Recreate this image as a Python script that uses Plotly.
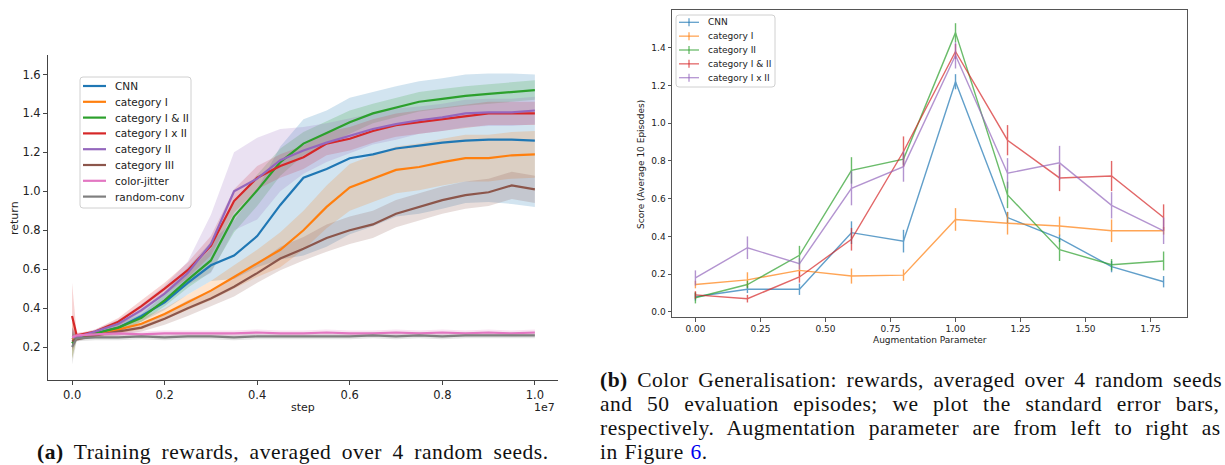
import plotly.graph_objects as go

W, H = 1225, 465

# ---------------- (a) training curves ----------------
steps = [0, 0.01, 0.05, 0.1, 0.15, 0.2, 0.25, 0.3, 0.35, 0.4, 0.45, 0.5, 0.55,
         0.6, 0.65, 0.7, 0.75, 0.8, 0.85, 0.9, 0.95, 1.0]

train_names = ["CNN", "category I", "category I & II", "category I x II",
               "category II", "category III", "color-jitter", "random-conv"]

cnn_mean = [0.24, 0.25, 0.27, 0.30, 0.36, 0.43, 0.53, 0.62, 0.67, 0.77, 0.93, 1.07,
            1.115, 1.17, 1.19, 1.22, 1.235, 1.25, 1.26, 1.265, 1.265, 1.26]
cnn_lo = [0.03, 0.01, 0.01, 0.02, 0.03, 0.04, 0.06, 0.08, 0.12, 0.16, 0.28, 0.40,
          0.40, 0.39, 0.37, 0.35, 0.35, 0.34, 0.32, 0.32, 0.33, 0.34]
cnn_hi = [0.03, 0.01, 0.01, 0.02, 0.03, 0.05, 0.08, 0.12, 0.18, 0.24, 0.30, 0.30,
          0.30, 0.31, 0.32, 0.32, 0.33, 0.33, 0.34, 0.34, 0.34, 0.34]

cat1_mean = [0.24, 0.25, 0.26, 0.29, 0.32, 0.37, 0.43, 0.49, 0.56, 0.63, 0.70, 0.80,
             0.92, 1.02, 1.065, 1.11, 1.125, 1.15, 1.17, 1.17, 1.185, 1.19]
cat1_sd = [0.10, 0.01, 0.01, 0.02, 0.03, 0.03, 0.04, 0.05, 0.06, 0.07, 0.09, 0.10,
           0.11, 0.12, 0.12, 0.12, 0.12, 0.12, 0.12, 0.12, 0.12, 0.12]

cat12_mean = [0.22, 0.25, 0.27, 0.30, 0.35, 0.44, 0.545, 0.645, 0.87, 1.005, 1.15, 1.245,
              1.30, 1.355, 1.40, 1.43, 1.46, 1.475, 1.49, 1.50, 1.51, 1.52]
cat12_sd = [0.08, 0.01, 0.01, 0.02, 0.02, 0.03, 0.04, 0.06, 0.08, 0.08, 0.07, 0.06,
            0.06, 0.06, 0.05, 0.05, 0.05, 0.05, 0.05, 0.05, 0.05, 0.05]

cat1x2_mean = [0.36, 0.26, 0.28, 0.33, 0.41, 0.50, 0.595, 0.72, 0.95, 1.07, 1.13, 1.175,
               1.245, 1.27, 1.31, 1.34, 1.355, 1.37, 1.385, 1.40, 1.40, 1.40]
cat1x2_sd = [0.17, 0.01, 0.01, 0.02, 0.03, 0.03, 0.04, 0.05, 0.06, 0.06, 0.06, 0.06,
             0.06, 0.06, 0.06, 0.06, 0.06, 0.06, 0.06, 0.06, 0.06, 0.06]

cat2_mean = [0.25, 0.25, 0.28, 0.32, 0.39, 0.475, 0.58, 0.73, 1.00, 1.065, 1.16, 1.21,
             1.25, 1.285, 1.32, 1.345, 1.365, 1.38, 1.40, 1.405, 1.405, 1.415]
cat2_sd = [0.05, 0.01, 0.01, 0.02, 0.03, 0.04, 0.06, 0.15, 0.20, 0.21, 0.16, 0.12,
           0.10, 0.09, 0.08, 0.08, 0.07, 0.07, 0.07, 0.07, 0.07, 0.07]

cat3_mean = [0.23, 0.24, 0.26, 0.28, 0.30, 0.345, 0.40, 0.45, 0.51, 0.58, 0.655, 0.705,
             0.76, 0.80, 0.83, 0.885, 0.92, 0.955, 0.98, 0.995, 1.03, 1.01]
cat3_sd = [0.05, 0.01, 0.01, 0.02, 0.02, 0.03, 0.04, 0.04, 0.05, 0.05, 0.06, 0.06,
           0.07, 0.07, 0.07, 0.07, 0.07, 0.07, 0.07, 0.07, 0.07, 0.07]

jitter_mean = [0.25, 0.26, 0.265, 0.27, 0.265, 0.27, 0.27, 0.27, 0.27, 0.275, 0.27, 0.27,
               0.275, 0.27, 0.27, 0.275, 0.27, 0.275, 0.27, 0.275, 0.27, 0.275]
jitter_sd = [0.05, 0.015, 0.015, 0.015, 0.015, 0.015, 0.015, 0.015, 0.015, 0.015, 0.015,
             0.015, 0.015, 0.015, 0.015, 0.015, 0.015, 0.015, 0.015, 0.015, 0.015, 0.015]

rconv_mean = [0.20, 0.245, 0.25, 0.25, 0.255, 0.25, 0.255, 0.255, 0.25, 0.255, 0.255, 0.255,
              0.255, 0.255, 0.26, 0.255, 0.26, 0.255, 0.26, 0.26, 0.26, 0.26]
rconv_sd = [0.09, 0.015, 0.015, 0.015, 0.015, 0.015, 0.015, 0.015, 0.015, 0.015, 0.015,
            0.015, 0.015, 0.015, 0.015, 0.015, 0.015, 0.015, 0.015, 0.015, 0.015, 0.015]

train_x_ticks = [0.0, 0.2, 0.4, 0.6, 0.8, 1.0]
train_y_ticks = [0.2, 0.4, 0.6, 0.8, 1.0, 1.2, 1.4, 1.6]

# ---------------- (b) colour generalisation ----------------
aug_param = [0.0, 0.2, 0.4, 0.6, 0.8, 1.0, 1.2, 1.4, 1.6, 1.8]
gen_names = ["CNN", "category I", "category II", "category I & II", "category I x II"]

gen_cnn = [0.08, 0.12, 0.12, 0.42, 0.375, 1.22, 0.50, 0.39, 0.24, 0.16]
gen_cnn_err = [0.02, 0.02, 0.03, 0.06, 0.06, 0.04, 0.03, 0.02, 0.03, 0.03]
gen_cat1 = [0.145, 0.17, 0.22, 0.19, 0.195, 0.49, 0.47, 0.455, 0.43, 0.43]
gen_cat1_err = [0.02, 0.04, 0.03, 0.04, 0.03, 0.06, 0.06, 0.05, 0.06, 0.02]
gen_cat2 = [0.075, 0.145, 0.30, 0.75, 0.81, 1.48, 0.62, 0.33, 0.25, 0.27]
gen_cat2_err = [0.03, 0.02, 0.05, 0.07, 0.03, 0.05, 0.07, 0.06, 0.03, 0.05]
gen_cat12 = [0.09, 0.07, 0.185, 0.385, 0.85, 1.38, 0.91, 0.71, 0.72, 0.50]
gen_cat12_err = [0.02, 0.02, 0.03, 0.06, 0.08, 0.04, 0.08, 0.07, 0.08, 0.07]
gen_cat1x2 = [0.18, 0.34, 0.255, 0.655, 0.77, 1.36, 0.735, 0.79, 0.565, 0.43]
gen_cat1x2_err = [0.04, 0.06, 0.03, 0.09, 0.08, 0.07, 0.08, 0.09, 0.07, 0.07]

gen_x_ticks = [0.0, 0.25, 0.5, 0.75, 1.0, 1.25, 1.5, 1.75]
gen_y_ticks = [0.0, 0.2, 0.4, 0.6, 0.8, 1.0, 1.2, 1.4]

# ---------------- styling ----------------
TAB = {
    "blue": (31, 119, 180), "orange": (255, 127, 14), "green": (44, 160, 44),
    "red": (214, 39, 40), "purple": (148, 103, 189), "brown": (140, 86, 75),
    "pink": (227, 119, 194), "gray": (127, 127, 127),
}


def rgb(c, a=1.0):
    r, g, b = TAB[c]
    return f"rgba({r},{g},{b},{a})"


def fx(px):
    return px / W


def fy(py):
    return 1 - py / H


fig = go.Figure()


def band(mean, below, above):
    return ([m - s for m, s in zip(mean, below)], [m + s for m, s in zip(mean, above)])


train_series = [
    (cnn_mean, *band(cnn_mean, cnn_lo, cnn_hi), "blue"),
    (cat1_mean, *band(cat1_mean, cat1_sd, cat1_sd), "orange"),
    (cat12_mean, *band(cat12_mean, cat12_sd, cat12_sd), "green"),
    (cat1x2_mean, *band(cat1x2_mean, cat1x2_sd, cat1x2_sd), "red"),
    (cat2_mean, *band(cat2_mean, cat2_sd, cat2_sd), "purple"),
    (cat3_mean, *band(cat3_mean, cat3_sd, cat3_sd), "brown"),
    (jitter_mean, *band(jitter_mean, jitter_sd, jitter_sd), "pink"),
    (rconv_mean, *band(rconv_mean, rconv_sd, rconv_sd), "gray"),
]

for mean, lo, hi, c in train_series:
    fig.add_trace(go.Scatter(
        x=steps + steps[::-1], y=hi + lo[::-1], fill="toself",
        fillcolor=rgb(c, 0.2), line=dict(width=0), mode="lines",
        hoverinfo="skip", showlegend=False, xaxis="x", yaxis="y"))

for (mean, lo, hi, c), name in zip(train_series, train_names):
    fig.add_trace(go.Scatter(
        x=steps, y=mean, mode="lines", name=name,
        line=dict(color=rgb(c), width=2.2), showlegend=False,
        xaxis="x", yaxis="y"))

gen_series = [
    (gen_cnn, gen_cnn_err, "blue"), (gen_cat1, gen_cat1_err, "orange"),
    (gen_cat2, gen_cat2_err, "green"), (gen_cat12, gen_cat12_err, "red"),
    (gen_cat1x2, gen_cat1x2_err, "purple"),
]
for (vals, err, c), name in zip(gen_series, gen_names):
    fig.add_trace(go.Scatter(
        x=aug_param, y=vals, mode="lines", name=name, opacity=0.7,
        line=dict(color=rgb(c), width=1.4),
        error_y=dict(type="data", array=err, visible=True, thickness=1.4,
                     width=0, color=rgb(c)),
        showlegend=False, xaxis="x2", yaxis="y2"))

tick_font_a = dict(family="DejaVu Sans", size=11.5, color="#222")
tick_font_b = dict(family="DejaVu Sans", size=9, color="#222")

fig.update_layout(
    width=W, height=H, margin=dict(l=0, r=0, t=0, b=0),
    paper_bgcolor="white", plot_bgcolor="white", showlegend=False,
    xaxis=dict(domain=[fx(48), fx(558)], range=[-0.052, 1.05], anchor="y",
               tickvals=train_x_ticks, ticktext=[f"{v:.1f}" for v in train_x_ticks],
               showgrid=False, zeroline=False, showline=True, linecolor="#444",
               linewidth=1, ticks="outside", ticklen=4, tickcolor="#444",
               tickfont=tick_font_a),
    yaxis=dict(domain=[fy(380), fy(55)], range=[0.031, 1.70], anchor="x",
               tickvals=train_y_ticks, ticktext=[f"{v:.1f}" for v in train_y_ticks],
               showgrid=False, zeroline=False, showline=True, linecolor="#444",
               linewidth=1, ticks="outside", ticklen=4, tickcolor="#444",
               tickfont=tick_font_a),
    xaxis2=dict(domain=[fx(672), fx(1187)], range=[-0.09, 1.89], anchor="y2",
                tickvals=gen_x_ticks, ticktext=[f"{v:.2f}" for v in gen_x_ticks],
                showgrid=False, zeroline=False, showline=True, mirror=True,
                linecolor="#555", linewidth=1, ticks="outside", ticklen=3.5,
                tickcolor="#555", tickfont=tick_font_b),
    yaxis2=dict(domain=[fy(317), fy(10)], range=[-0.027, 1.60], anchor="x2",
                tickvals=gen_y_ticks, ticktext=[f"{v:.1f}" for v in gen_y_ticks],
                showgrid=False, zeroline=False, showline=True, mirror=True,
                linecolor="#555", linewidth=1, ticks="outside", ticklen=3.5,
                tickcolor="#555", tickfont=tick_font_b),
)

shapes = []
annots = []


def text(px, py, s, size, xanchor="center", angle=0, family="DejaVu Sans", color="#222"):
    annots.append(dict(x=fx(px), y=fy(py), xref="paper", yref="paper", text=s,
                       showarrow=False, xanchor=xanchor, yanchor="middle",
                       textangle=angle, font=dict(family=family, size=size, color=color)))


def rounded_box(x0, y0, x1, y1, r=3):
    X0, X1 = fx(x0), fx(x1)
    rx, ry = r / W, r / H
    Y0, Y1 = fy(y0), fy(y1)  # Y0 top, Y1 bottom
    path = (f"M {X0+rx},{Y0} L {X1-rx},{Y0} Q {X1},{Y0} {X1},{Y0-ry} "
            f"L {X1},{Y1+ry} Q {X1},{Y1} {X1-rx},{Y1} L {X0+rx},{Y1} "
            f"Q {X0},{Y1} {X0},{Y1+ry} L {X0},{Y0-ry} Q {X0},{Y0} {X0+rx},{Y0} Z")
    shapes.append(dict(type="path", path=path, xref="paper", yref="paper",
                       line=dict(color="#d0d0d0", width=1),
                       fillcolor="rgba(255,255,255,0.85)"))


# legend (a)
rounded_box(80, 77, 191, 208)
leg_a_colors = ["blue", "orange", "green", "red", "purple", "brown", "pink", "gray"]
for i, (name, c) in enumerate(zip(train_names, leg_a_colors)):
    yy = 86 + 15.8 * i
    shapes.append(dict(type="line", xref="paper", yref="paper", x0=fx(83), x1=fx(106),
                       y0=fy(yy), y1=fy(yy), line=dict(color=rgb(c), width=2.2)))
    text(113, yy, name, 10.5, xanchor="left")

# legend (b)
rounded_box(676, 15, 775, 87)
leg_b_colors = ["blue", "orange", "green", "red", "purple"]
for i, (name, c) in enumerate(zip(gen_names, leg_b_colors)):
    yy = 22.3 + 13.85 * i
    shapes.append(dict(type="line", xref="paper", yref="paper", x0=fx(679), x1=fx(699),
                       y0=fy(yy), y1=fy(yy), line=dict(color=rgb(c, 0.7), width=1.3)))
    shapes.append(dict(type="line", xref="paper", yref="paper", x0=fx(689), x1=fx(689),
                       y0=fy(yy - 4), y1=fy(yy + 4), line=dict(color=rgb(c, 0.7), width=1.3)))
    text(706, yy, name, 9, xanchor="left")

# axis labels
text(15, 218, "return", 11, angle=-90)
text(303, 407, "step", 11)
text(557, 407, "1e7", 11, xanchor="right")
text(641, 164, "Score (Average 10 Episodes)", 9, angle=-90)
text(930, 340, "Augmentation Parameter", 9)

# captions
serif = "Liberation Serif"


def spaced(s, ws, ls=0.5):
    return f"<span style='letter-spacing:{ls}px;word-spacing:{ws}px'>{s}</span>"


text(293, 452, spaced("<b>(a)</b> Training rewards, averaged over 4 random seeds.", 4.7),
     21.5, family=serif, color="#111")
cap_b = [
    ("<b>(b)</b> Color Generalisation: rewards, averaged over 4 random seeds", 3.6),
    ("and 50 evaluation episodes; we plot the standard error bars,", 8.7),
    ("respectively. Augmentation parameter are from left to right as", 7.4),
    ("in Figure <span style='fill:#0000ee'>6</span>.", 1.0),
]
for i, (line, ws) in enumerate(cap_b):
    text(598, 380 + 24 * i, spaced(line, ws), 21.5, xanchor="left", family=serif, color="#111")

fig.update_layout(shapes=shapes, annotations=annots)
fig.write_html("out.html")
